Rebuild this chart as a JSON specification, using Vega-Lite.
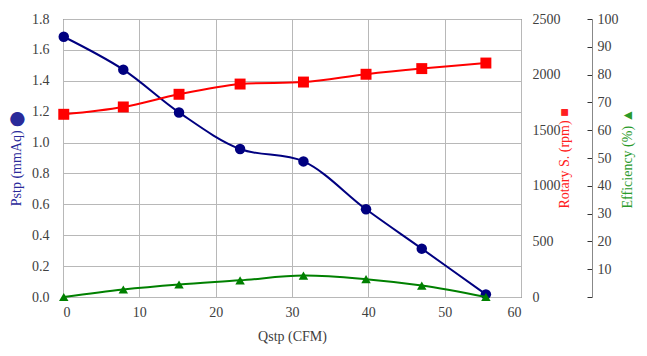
{
  "$schema": "https://vega.github.io/schema/vega-lite/v6.json",
  "autosize": "none",
  "width": 458,
  "height": 278,
  "padding": {"left": 63, "top": 19, "right": 126, "bottom": 59},
  "background": "white",
  "config": {
    "view": {"stroke": "#333333", "strokeWidth": 1},
    "font": "Liberation Serif",
    "axis": {
      "labelFont": "Liberation Serif",
      "titleFont": "Liberation Serif",
      "labelFontSize": 14,
      "titleFontSize": 14,
      "titleFontWeight": "normal",
      "labelColor": "#404040",
      "gridColor": "#b8b8b8",
      "gridWidth": 1
    }
  },
  "data": {
    "values": [
      {"q": 0.1, "pstp": 1.685, "rpm": 1643, "eff": 0.0},
      {"q": 7.9, "pstp": 1.472, "rpm": 1709, "eff": 2.7},
      {"q": 15.2, "pstp": 1.195, "rpm": 1823, "eff": 4.5},
      {"q": 23.2, "pstp": 0.958, "rpm": 1915, "eff": 6.0},
      {"q": 31.5, "pstp": 0.878, "rpm": 1933, "eff": 7.7},
      {"q": 39.7, "pstp": 0.568, "rpm": 2003, "eff": 6.4},
      {"q": 47.0, "pstp": 0.313, "rpm": 2054, "eff": 4.1},
      {"q": 55.4, "pstp": 0.017, "rpm": 2104, "eff": 0.0}
    ]
  },
  "encoding": {
    "x": {
      "field": "q",
      "type": "quantitative",
      "scale": {"domain": [0, 60], "nice": false, "zero": false},
      "axis": {
        "values": [0, 10, 20, 30, 40, 50, 60],
        "title": "Qstp (CFM)",
        "titleColor": "#404040",
        "labelFont": "Liberation Serif",
        "labelFontSize": 14,
        "grid": true,
        "domain": false,
        "ticks": false,
        "labelPadding": 8,
        "titlePadding": 10
      }
    }
  },
  "layer": [
    {
      "mark": {
        "type": "line",
        "color": "#000080",
        "strokeWidth": 2,
        "interpolate": "catmull-rom",
        "point": {"filled": true, "shape": "circle", "size": 110, "color": "#000080", "opacity": 1}
      },
      "encoding": {
        "y": {
          "field": "pstp",
          "type": "quantitative",
          "scale": {"domain": [0, 1.8], "nice": false},
          "axis": {
            "orient": "left",
            "values": [0, 0.2, 0.4, 0.6, 0.8, 1.0, 1.2, 1.4, 1.6, 1.8],
            "format": ".1f",
            "title": "Pstp (mmAq) ⬤",
            "titleColor": "#2a2a9a",
            "titleAngle": 270,
            "labelFont": "Liberation Serif",
            "labelFontSize": 14,
            "grid": true,
            "domain": false,
            "ticks": false,
            "labelPadding": 14,
            "titlePadding": 8
          }
        }
      }
    },
    {
      "mark": {
        "type": "line",
        "color": "#ff0000",
        "strokeWidth": 2,
        "interpolate": "catmull-rom",
        "point": {"filled": true, "shape": "square", "size": 120, "color": "#ff0000", "opacity": 1}
      },
      "encoding": {
        "y": {
          "field": "rpm",
          "type": "quantitative",
          "scale": {"domain": [0, 2500], "nice": false},
          "axis": {
            "orient": "right",
            "values": [0, 500, 1000, 1500, 2000, 2500],
            "format": "d",
            "title": "Rotary S. (rpm) ■",
            "titleColor": "#ff2020",
            "titleAngle": 270,
            "labelFont": "Liberation Serif",
            "labelFontSize": 14,
            "grid": false,
            "domain": false,
            "ticks": false,
            "labelPadding": 11,
            "titlePadding": 11
          }
        }
      }
    },
    {
      "mark": {
        "type": "line",
        "color": "#008000",
        "strokeWidth": 2,
        "interpolate": "catmull-rom",
        "point": {"filled": true, "shape": "triangle-up", "size": 90, "color": "#008000", "opacity": 1}
      },
      "encoding": {
        "y": {
          "field": "eff",
          "type": "quantitative",
          "scale": {"domain": [0, 100], "nice": false},
          "axis": {
            "orient": "right",
            "offset": 71,
            "values": [0, 10, 20, 30, 40, 50, 60, 70, 80, 90, 100],
            "labelExpr": "datum.value == 0 ? '' : datum.label",
            "title": "Efficiency (%) ▲",
            "titleColor": "#2a9a2a",
            "titleAngle": 270,
            "labelFont": "Liberation Serif",
            "labelFontSize": 14,
            "grid": false,
            "domain": true,
            "domainColor": "#888888",
            "tickColor": "#333333",
            "tickSize": -5,
            "labelPadding": 10,
            "titlePadding": 16
          }
        }
      }
    }
  ],
  "resolve": {"scale": {"y": "independent"}}
}
